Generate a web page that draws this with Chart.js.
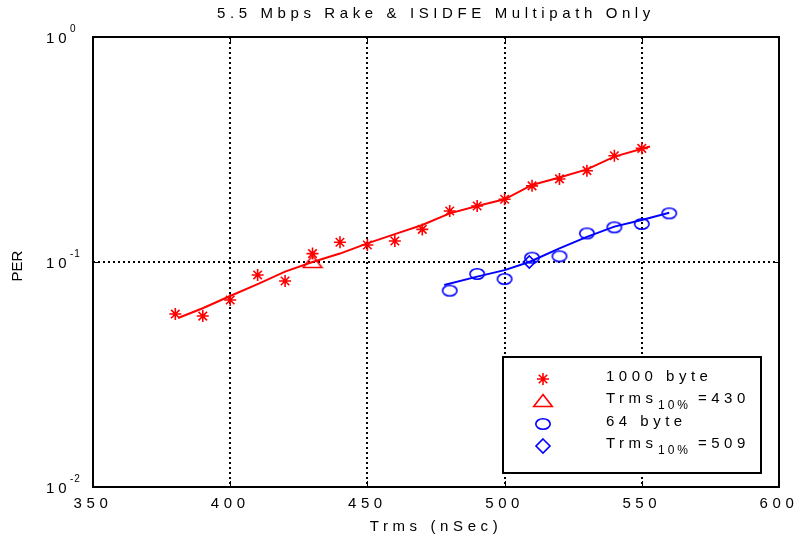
<!DOCTYPE html>
<html>
<head>
<meta charset="utf-8">
<title>5.5 Mbps Rake & ISIDFE Multipath Only</title>
<script src="https://cdn.jsdelivr.net/npm/chart.js@4.4.1/dist/chart.umd.min.js"></script>
<style>
  html, body { margin: 0; padding: 0; background: #fff; }
  #wrap { width: 797px; height: 539px; }
</style>
</head>
<body>
<div id="wrap"><canvas id="chart" width="797" height="539"></canvas></div>
<script>
// data
const trms1000 = [380, 390, 400, 410, 420, 430, 440, 450, 460, 470, 480, 490, 500, 510, 520, 530, 540, 550];
const per1000 = [0.0587, 0.0575, 0.0678, 0.0876, 0.0823, 0.109, 0.1224, 0.119, 0.124, 0.1396, 0.1685, 0.1774, 0.190, 0.218, 0.234, 0.2546, 0.2965, 0.320];
const fit1000X = [381, 390, 400, 410, 420, 430, 440, 450, 460, 470, 480, 490, 500, 510, 520, 530, 540, 553];
const fit1000Y = [0.0564, 0.0623, 0.0706, 0.0798, 0.0906, 0.100, 0.109, 0.121, 0.133, 0.146, 0.1645, 0.1774, 0.190, 0.220, 0.2375, 0.258, 0.294, 0.326];

const trms64 = [480, 490, 500, 510, 520, 530, 540, 550, 560];
const per64 = [0.0746, 0.0885, 0.084, 0.1045, 0.106, 0.134, 0.1426, 0.1476, 0.1645];
const fit64X = [478, 490, 500, 509, 520, 530, 540, 550, 560];
const fit64Y = [0.079, 0.0861, 0.092, 0.100, 0.115, 0.1294, 0.1436, 0.1537, 0.1656];

const t10X = [430, 509];   // Trms at 10% PER
const t10Y = [0.1, 0.1];

const xTicks = [350, 400, 450, 500, 550, 600];
const yTicks = [0.01, 0.1, 1];

const legendLabels = ["1000 byte", "Trms", "64 byte", "Trms"];
const legendValues = ["", "=430", "", "=509"];

const RED = "#ff0000";
const BLUE = "#0000ff";
const FONT = "'Liberation Sans', Arial, sans-serif";
Chart.defaults.font.family = FONT;
Chart.defaults.color = "#000";

function makeMarker(w, h, draw) {
  const c = document.createElement("canvas");
  c.width = w;
  c.height = h;
  draw(c.getContext("2d"), w, h);
  return c;
}

const ellipse = makeMarker(18, 14, (g) => {
  g.strokeStyle = BLUE;
  g.lineWidth = 1.6;
  g.beginPath();
  g.ellipse(9, 7, 7.2, 5.3, 0, 0, Math.PI * 2);
  g.stroke();
});

const triangle = makeMarker(22, 16, (g) => {
  g.strokeStyle = RED;
  g.lineWidth = 1.6;
  g.beginPath();
  g.moveTo(11, 1.5);
  g.lineTo(20.3, 13.5);
  g.lineTo(1.7, 13.5);
  g.closePath();
  g.stroke();
});

function pts(xs, ys) {
  return xs.map((x, i) => ({ x: x, y: ys[i] }));
}

// canvas text spacing like the original plot
const spacing = {
  id: "spacing",
  beforeLayout(chart) { chart.ctx.letterSpacing = "4.6px"; },
  beforeDraw(chart) { chart.ctx.letterSpacing = "4.6px"; }
};

function drawStar(ctx, x, y, r) {
  ctx.beginPath();
  for (let k = 0; k < 4; k++) {
    const a = k * Math.PI / 4;
    ctx.moveTo(x - r * Math.cos(a), y - r * Math.sin(a));
    ctx.lineTo(x + r * Math.cos(a), y + r * Math.sin(a));
  }
  ctx.stroke();
}

const decorations = {
  id: "decorations",
  afterDraw(chart) {
    const ctx = chart.ctx;
    const a = chart.chartArea;
    const xs = chart.scales.x;
    const ys = chart.scales.y;
    ctx.save();

    // inner tick marks
    ctx.strokeStyle = "#000";
    ctx.lineWidth = 1;
    ctx.setLineDash([]);
    ctx.beginPath();
    xTicks.forEach((v) => {
      const px = Math.round(xs.getPixelForValue(v)) + 0.5;
      ctx.moveTo(px, a.bottom); ctx.lineTo(px, a.bottom - 6);
      ctx.moveTo(px, a.top); ctx.lineTo(px, a.top + 6);
    });
    yTicks.forEach((v) => {
      const py = Math.round(ys.getPixelForValue(v)) + 0.5;
      ctx.moveTo(a.left, py); ctx.lineTo(a.left + 6, py);
      ctx.moveTo(a.right, py); ctx.lineTo(a.right - 6, py);
    });
    ctx.stroke();

    // frame
    ctx.lineWidth = 2;
    ctx.strokeRect(a.left, a.top, a.right - a.left, a.bottom - a.top);

    // y tick labels 10^n
    ctx.fillStyle = "#000";
    ctx.textAlign = "left";
    ctx.textBaseline = "middle";
    yTicks.forEach((v) => {
      const py = ys.getPixelForValue(v);
      ctx.font = "15px " + FONT;
      ctx.letterSpacing = "4px";
      ctx.fillText("10", 46, py + 2);
      ctx.font = "10px " + FONT;
      ctx.letterSpacing = "1px";
      ctx.fillText(String(Math.round(Math.log10(v))), 70, py - 8);
    });

    // y axis title
    ctx.save();
    ctx.translate(18, (a.top + a.bottom) / 2 + 4);
    ctx.rotate(-Math.PI / 2);
    ctx.textAlign = "center";
    ctx.font = "15px " + FONT;
    ctx.letterSpacing = "0px";
    ctx.fillText("PER", 0, 0);
    ctx.restore();

    // legend box
    const bx = a.left + 410, by = a.top + 320, bw = 258, bh = 116;
    ctx.fillStyle = "#fff";
    ctx.fillRect(bx, by, bw, bh);
    ctx.lineWidth = 2;
    ctx.strokeStyle = "#000";
    ctx.strokeRect(bx, by, bw, bh);

    const symX = bx + 40;
    const rowY = [by + 22, by + 44, by + 67, by + 89];
    ctx.lineWidth = 1.6;
    ctx.strokeStyle = RED;
    drawStar(ctx, symX, rowY[0], 6);
    ctx.drawImage(triangle, symX - 11, rowY[1] - 8);
    ctx.drawImage(ellipse, symX - 9, rowY[2] - 7);
    ctx.strokeStyle = BLUE;
    ctx.beginPath();
    ctx.moveTo(symX, rowY[3] - 7);
    ctx.lineTo(symX + 7, rowY[3]);
    ctx.lineTo(symX, rowY[3] + 7);
    ctx.lineTo(symX - 7, rowY[3]);
    ctx.closePath();
    ctx.stroke();

    const tx = bx + 103;
    ctx.fillStyle = "#000";
    ctx.textBaseline = "middle";
    legendLabels.forEach((lab, i) => {
      const ty = rowY[i] - 2;
      ctx.font = "15px " + FONT;
      ctx.letterSpacing = "4.5px";
      ctx.fillText(lab, tx, ty);
      if (legendValues[i]) {
        ctx.font = "12px " + FONT;
        ctx.letterSpacing = "3px";
        ctx.fillText("10%", tx + 52, ty + 7);
        ctx.font = "15px " + FONT;
        ctx.letterSpacing = "4.5px";
        ctx.fillText(legendValues[i], tx + 92, ty);
      }
    });

    ctx.restore();
  }
};

const gridOpts = { color: "#000", lineWidth: 2, drawTicks: false };

new Chart(document.getElementById("chart"), {
  type: "scatter",
  data: {
    datasets: [
      {
        label: "1000 byte fit",
        data: pts(fit1000X, fit1000Y),
        showLine: true,
        borderColor: RED,
        borderWidth: 2,
        pointRadius: 0,
        tension: 0
      },
      {
        label: "64 byte fit",
        data: pts(fit64X, fit64Y),
        showLine: true,
        borderColor: BLUE,
        borderWidth: 2,
        pointRadius: 0,
        tension: 0
      },
      {
        label: "1000 byte",
        data: pts(trms1000, per1000),
        pointStyle: "star",
        pointRadius: 6,
        borderColor: RED,
        backgroundColor: RED,
        borderWidth: 1.6
      },
      {
        label: "64 byte",
        data: pts(trms64, per64),
        pointStyle: ellipse,
        borderColor: BLUE
      },
      {
        label: "Trms 10% (1000 byte)",
        data: pts([t10X[0]], [t10Y[0]]),
        pointStyle: triangle,
        borderColor: RED
      },
      {
        label: "Trms 10% (64 byte)",
        data: pts([t10X[1]], [t10Y[1]]),
        pointStyle: "rectRot",
        pointRadius: 6,
        borderColor: BLUE,
        backgroundColor: "rgba(0,0,0,0)",
        borderWidth: 1.6
      }
    ]
  },
  options: {
    responsive: false,
    animation: false,
    events: [],
    layout: { padding: { left: 0, right: 18, top: 0, bottom: 0 } },
    plugins: {
      legend: { display: false },
      tooltip: { enabled: false },
      title: {
        display: true,
        text: "5.5 Mbps Rake & ISIDFE Multipath Only",
        fullSize: false,
        font: { size: 15, weight: "normal" },
        color: "#000",
        padding: { top: 5, bottom: 14 }
      }
    },
    scales: {
      x: {
        type: "linear",
        min: 350,
        max: 600,
        afterBuildTicks: (s) => { s.ticks = xTicks.map((v) => ({ value: v })); },
        afterFit: (s) => { s.height = 52; s.paddingRight = 0; s.paddingLeft = 0; },
        ticks: { font: { size: 15 }, color: "#000", padding: 8, maxRotation: 0 },
        grid: gridOpts,
        border: { display: false, dash: [2, 3] },
        title: {
          display: true,
          text: "Trms (nSec)",
          font: { size: 15 },
          color: "#000",
          padding: { top: 0, bottom: 3 }
        }
      },
      y: {
        type: "logarithmic",
        min: 0.01,
        max: 1,
        afterBuildTicks: (s) => { s.ticks = yTicks.map((v) => ({ value: v })); },
        afterFit: (s) => { s.width = 93; },
        ticks: { display: false },
        grid: gridOpts,
        border: { display: false, dash: [2, 3] }
      }
    }
  },
  plugins: [spacing, decorations]
});
</script>
</body>
</html>
